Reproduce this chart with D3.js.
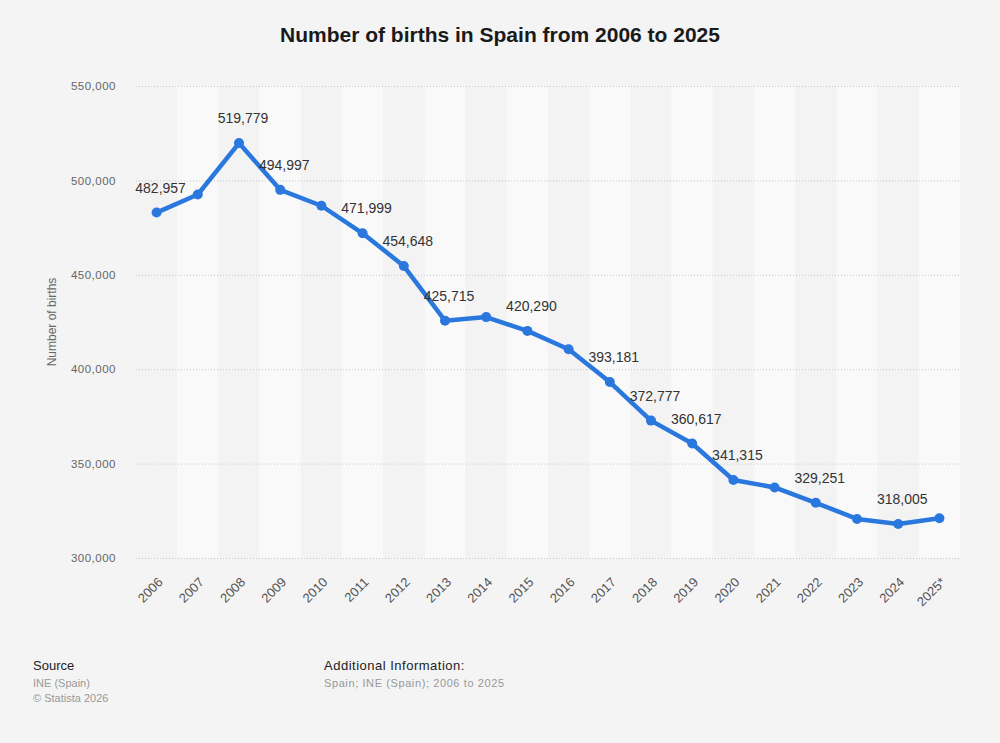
<!DOCTYPE html>
<html>
<head>
<meta charset="utf-8">
<script src="https://cdn.jsdelivr.net/npm/d3@7"></script>
<style>
	body { margin:0; background:#f4f4f4; font-family:"Liberation Sans", Arial, sans-serif; }
	svg { display:block; }
</style>
</head>
<body>
<div class="interactive-wrapper"></div>
<script>

//=====================DATA=====================

const years = ['2006','2007','2008','2009','2010','2011','2012','2013','2014','2015','2016','2017','2018','2019','2020','2021','2022','2023','2024','2025*'];
const births = [482957, 492527, 519779, 494997, 486575, 471999, 454648, 425715, 427595, 420290, 410583, 393181, 372777, 360617, 341315, 337380, 329251, 320700, 318005, 321100];
// which points carry a value label
const labelled = [true, false, true, true, false, true, true, true, false, true, false, true, true, true, true, false, true, false, true, false];
const yTicks = [300000, 350000, 400000, 450000, 500000, 550000];

const data = years.map((y, i) => ({year:y, value:births[i], label:labelled[i]}));

//====================STRUCTURE===================

const width = 1000;
const height = 743;
const margin = {top:86, right:40, bottom:185, left:136};

const svg = d3.select('.interactive-wrapper')
.append('svg')
.attr('width', width)
.attr('height', height)

svg.append('rect')
.attr('width', width)
.attr('height', height)
.attr('fill', '#f4f4f4')

const x = d3.scaleBand()
.domain(years)
.range([margin.left, width - margin.right])

const y = d3.scaleLinear()
.domain([300000, 550000])
.range([height - margin.bottom, margin.top])

const fmt = d3.format(',')

//================TITLE======================================

svg.append('text')
.attr('x', width / 2)
.attr('y', 42)
.attr('text-anchor', 'middle')
.attr('font-size', 21)
.attr('font-weight', 'bold')
.attr('fill', '#1a1a1a')
.text('Number of births in Spain from 2006 to 2025')

//================BANDS + GRID======================================

svg.append('g')
.selectAll('rect')
.data(years)
.enter()
.append('rect')
.attr('x', d => x(d))
.attr('y', margin.top)
.attr('width', x.bandwidth())
.attr('height', y(300000) - margin.top)
.attr('fill', (d, i) => i % 2 ? '#f9f9f9' : '#f3f3f3')

const yAxis = svg.append('g')
.attr('transform', `translate(${margin.left},0)`)
.call(d3.axisLeft(y).tickValues(yTicks).tickFormat(fmt).tickSize(-(width - margin.left - margin.right)).tickPadding(20))

yAxis.select('.domain').remove()
yAxis.selectAll('line')
.attr('stroke', '#c8c8c8')
.attr('stroke-dasharray', '1,2')
yAxis.selectAll('text')
.attr('font-size', 11.5)
.attr('fill', '#666')
.attr('font-family', '"Liberation Sans", Arial, sans-serif')
.style('letter-spacing', '0.5px')

svg.append('text')
.attr('transform', `translate(56,${(margin.top + height - margin.bottom) / 2}) rotate(-90)`)
.attr('text-anchor', 'middle')
.attr('font-size', 12)
.attr('fill', '#666')
.text('Number of births')

const xAxis = svg.append('g')
.attr('transform', `translate(0,${height - margin.bottom})`)
.call(d3.axisBottom(x).tickSize(0).tickPadding(0))

xAxis.select('.domain').remove()
xAxis.selectAll('text')
.attr('font-size', 13)
.attr('fill', '#555')
.attr('font-family', '"Liberation Sans", Arial, sans-serif')
.attr('text-anchor', 'end')
.attr('dy', 0)
.attr('transform', 'translate(7,25) rotate(-45)')

//================LINE======================================

const line = d3.line()
.x(d => x(d.year) + x.bandwidth() / 2)
.y(d => y(d.value))

svg.append('path')
.datum(data)
.attr('d', line)
.attr('fill', 'none')
.attr('stroke', '#2a78de')
.attr('stroke-width', 4.5)
.attr('stroke-linejoin', 'round')

svg.append('g')
.selectAll('circle')
.data(data)
.enter()
.append('circle')
.attr('cx', d => x(d.year) + x.bandwidth() / 2)
.attr('cy', d => y(d.value))
.attr('r', 5)
.attr('fill', '#2a78de')

svg.append('g')
.selectAll('text')
.data(data.filter(d => d.label))
.enter()
.append('text')
.attr('x', d => x(d.year) + x.bandwidth() / 2 + 4)
.attr('y', d => y(d.value) - 20)
.attr('text-anchor', 'middle')
.attr('font-size', 14)
.attr('fill', '#333')
.text(d => fmt(d.value))

//================FOOTER======================================

const footer = [
	{x:33, y:670, text:'Source', fill:'#222', size:13, ls:0},
	{x:33, y:687, text:'INE (Spain)', fill:'#999', size:11, ls:0},
	{x:33, y:702, text:'© Statista 2026', fill:'#999', size:11, ls:0},
	{x:324, y:670, text:'Additional Information:', fill:'#222', size:13, ls:0.5},
	{x:324, y:687, text:'Spain; INE (Spain); 2006 to 2025', fill:'#999', size:11, ls:0.6}
]

svg.append('g')
.selectAll('text')
.data(footer)
.enter()
.append('text')
.attr('x', d => d.x)
.attr('y', d => d.y)
.attr('font-size', d => d.size)
.attr('fill', d => d.fill)
.style('letter-spacing', d => d.ls + 'px')
.text(d => d.text)

</script>
</body>
</html>
